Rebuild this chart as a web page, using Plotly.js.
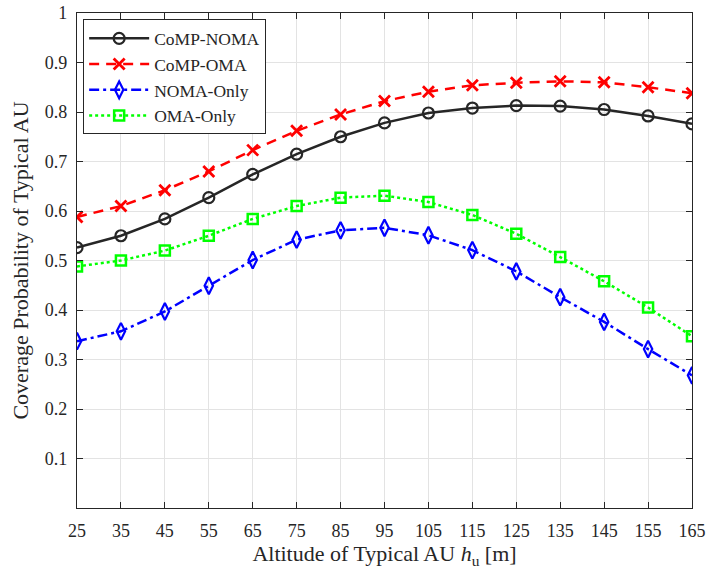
<!DOCTYPE html>
<html>
<head>
<meta charset="utf-8">
<script src="https://cdn.plot.ly/plotly-3.0.1.min.js"></script>
<style>html,body{margin:0;padding:0;background:#fff;}#chart{width:708px;height:569px;}</style>
</head>
<body>
<div id="chart"></div>
<script>
const altitude = [25, 35, 45, 55, 65, 75, 85, 95, 105, 115, 125, 135, 145, 155, 165];
const compNoma = [0.526, 0.550, 0.584, 0.627, 0.674, 0.715, 0.750, 0.778, 0.798, 0.808, 0.813, 0.812, 0.805, 0.792, 0.776];
const compOma  = [0.588, 0.610, 0.642, 0.680, 0.723, 0.762, 0.795, 0.822, 0.841, 0.854, 0.859, 0.862, 0.860, 0.850, 0.838];
const nomaOnly = [0.337, 0.357, 0.397, 0.449, 0.501, 0.542, 0.561, 0.566, 0.551, 0.521, 0.478, 0.426, 0.376, 0.321, 0.268];
const omaOnly  = [0.488, 0.500, 0.520, 0.550, 0.584, 0.610, 0.627, 0.631, 0.618, 0.592, 0.554, 0.507, 0.458, 0.405, 0.347];
const yTickVals = [0.1, 0.2, 0.3, 0.4, 0.5, 0.6, 0.7, 0.8, 0.9, 1];
const yTickText = ['0.1', '0.2', '0.3', '0.4', '0.5', '0.6', '0.7', '0.8', '0.9', '1'];

const serif = 'Liberation Serif, DejaVu Serif, serif';

const traces = [
  {x: altitude, y: compNoma, name: 'CoMP-NOMA', mode: 'lines+markers',
   line: {color: '#262626', width: 2.5, dash: 'solid'},
   marker: {symbol: 'circle-open', size: 11, color: '#262626', line: {width: 2.2, color: '#262626'}}},
  {x: altitude, y: compOma, name: 'CoMP-OMA', mode: 'lines+markers',
   line: {color: '#ff0000', width: 2.5, dash: '10px,7px'},
   marker: {symbol: 'x-thin-open', size: 11, color: '#ff0000', line: {width: 2.8, color: '#ff0000'}}},
  {x: altitude, y: nomaOnly, name: 'NOMA-Only', mode: 'lines+markers',
   line: {color: '#0000ff', width: 2.5, dash: '10px,4px,3px,4px'},
   marker: {symbol: 'diamond-tall-open', size: 12, color: '#0000ff', line: {width: 2.2, color: '#0000ff'}}},
  {x: altitude, y: omaOnly, name: 'OMA-Only', mode: 'lines+markers',
   line: {color: '#00ff00', width: 2.5, dash: 'dot'},
   marker: {symbol: 'square-open', size: 10, color: '#00ff00', line: {width: 2.5, color: '#00ff00'}}}
];

const axisCommon = {
  showline: true, linecolor: '#262626', linewidth: 1.2, mirror: 'ticks',
  ticks: 'inside', ticklen: 6, tickwidth: 1, tickcolor: '#262626',
  showgrid: true, gridcolor: '#e3e3e3', gridwidth: 1, zeroline: false,
  tickfont: {family: serif, size: 18, color: '#262626'}
};

const layout = {
  width: 708, height: 569,
  margin: {l: 77, r: 16, t: 13, b: 61},
  paper_bgcolor: '#ffffff', plot_bgcolor: '#ffffff',
  showlegend: true,
  legend: {x: 0.01, y: 0.987, xanchor: 'left', yanchor: 'top',
    bgcolor: '#ffffff', bordercolor: '#262626', borderwidth: 1,
    itemwidth: 60,
    font: {family: serif, size: 17.5, color: '#262626'}, tracegroupgap: 0},
  xaxis: Object.assign({}, axisCommon, {
    range: [25, 165], tickmode: 'array', tickvals: altitude,
    ticklabeloverflow: 'allow', ticklabelstandoff: 6,
    title: {text: 'Altitude of Typical AU <i>h</i><sub>u</sub> [m]', font: {family: serif, size: 22, color: '#262626'}, standoff: 11}
  }),
  yaxis: Object.assign({}, axisCommon, {
    range: [0, 1], tickmode: 'array', tickvals: yTickVals, ticktext: yTickText,
    ticklabelstandoff: 5,
    title: {text: 'Coverage Probability of Typical AU', font: {family: serif, size: 22, color: '#262626'}, standoff: 10}
  })
};

Plotly.newPlot('chart', traces, layout, {displayModeBar: false, staticPlot: true});
</script>
</body>
</html>
